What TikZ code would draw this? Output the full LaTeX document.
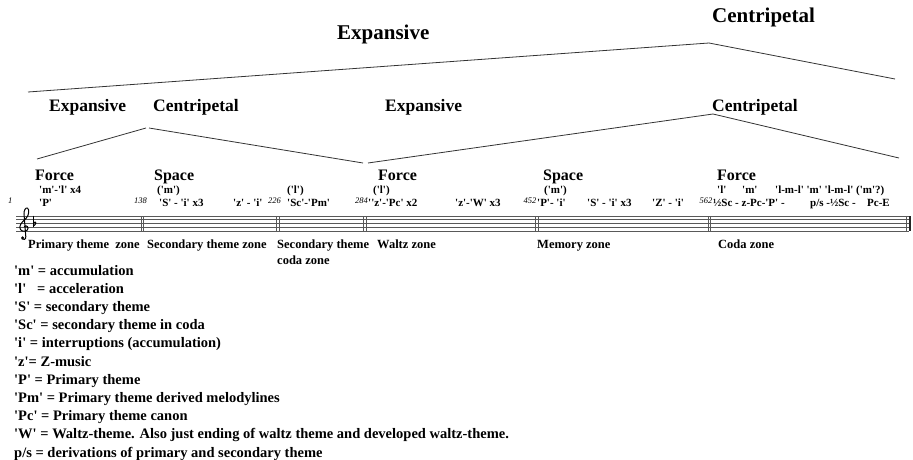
\documentclass[tikz,border=0pt]{standalone}
\usepackage{fontspec}
\setmainfont{Liberation Serif}[Ligatures=TeXOff]
\usetikzlibrary{calc}

\begin{document}
\begin{tikzpicture}[x=1pt,y=-1pt]
	\tikzset{
		txt/.style={anchor=base west,inner sep=0pt},
		big/.style={txt,font=\fontsize{21}{24}\selectfont\bfseries},
		half/.style={txt,font=\fontsize{17.5}{20}\selectfont\bfseries},
		part/.style={txt,font=\fontsize{16}{18}\selectfont\bfseries},
		lab/.style={txt,font=\fontsize{11}{13}\selectfont\bfseries},
		barno/.style={txt,font=\fontsize{8.5}{10}\selectfont\itshape},
		zone/.style={txt,font=\fontsize{12.5}{15}\selectfont\bfseries},
		key/.style={txt,font=\fontsize{14.5}{17}\selectfont\bfseries},
		arch/.style={line width=0.8pt,black!80},
		staffline/.style={line width=0.6pt,black!65},
		barline/.style={line width=0.7pt,black!65},
	}
	\useasboundingbox (0,0) rectangle (913,460);

	% top level
	\node[big] (exp) at (337,39.5) {Expansive};
	\node[big] (cen) at (712,23) {Centripetal};
	\coordinate (a0) at (28,92);
	\coordinate (a1) at (709,43);
	\coordinate (a2) at (895,79);
	\draw[arch] (a0) -- (a1) -- (a2);

	% second level
	\node[half] (exp1) at (49,111.5) {Expansive};
	\node[half] (cen1) at (153,111.5) {Centripetal};
	\node[half] (exp2) at (385,111.5) {Expansive};
	\node[half] (cen2) at (712,111.5) {Centripetal};
	\coordinate (b0) at (37,159);
	\coordinate (b1) at (146,128);
	\coordinate (b2) at (149,128);
	\coordinate (b3) at (363,163);
	\coordinate (b4) at (368,163);
	\coordinate (b5) at (713,114);
	\coordinate (b6) at (899,158);
	\draw[arch] (b0) -- (b1);
	\draw[arch] (b2) -- (b3);
	\draw[arch] (b4) -- (b5) -- (b6);

	% staff
	\foreach \k in {0,...,4}
		\draw[staffline] (16,216+3.7*\k) -- (909,216+3.7*\k);
	\foreach \x in {141,276.5,363.5,535.5,708}{
		\draw[barline] (\x,216) -- (\x,230.8);
		\draw[barline] (\x+2.6,216) -- (\x+2.6,230.8);
	}
	\draw[barline] (906,216) -- (906,230.8);
	\draw[line width=2.8pt,black!85] (910,216) -- (910,230.8);

	% clef and flat
	\draw[line width=1pt,line cap=round] (24.4,226.6)
		.. controls (26.6,224.4) and (29.4,227.6) .. (27.2,230.2)
		.. controls (24.8,232.4) and (19.6,231.2) .. (19.8,227.2)
		.. controls (20,223.2) and (24,220.8) .. (26.2,218.2)
		.. controls (29.2,215) and (29.4,209.5) .. (27.6,208.2)
		.. controls (25.6,207) and (23.8,210.5) .. (24,214)
		-- (25.8,236.4)
		.. controls (26.2,239.4) and (23.2,240.6) .. (21.8,238.8);
	\fill (22.6,237.8) circle (1.6);
	\draw[line width=0.6pt] (33.2,215.5) -- (33.2,226.5);
	\draw[line width=1pt] (33.2,226.2) .. controls (36.6,224.2) and (37,220.8) .. (33.2,222.6);

	% bar numbers
	\node[barno] (n1) at (8,203) {1};
	\node[barno] (n138) at (134,203) {138};
	\node[barno] (n226) at (268,203) {226};
	\node[barno] (n284) at (355,203) {284};
	\node[barno] (n452) at (523.5,203) {452};
	\node[barno] (n562) at (699.5,203) {562};

	% force / space
	\node[part] (f1) at (35,180) {Force};
	\node[part] (s1) at (154,180) {Space};
	\node[part] (f2) at (378,180) {Force};
	\node[part] (s2) at (543,180) {Space};
	\node[part] (f3) at (717,180) {Force};

	% upper row of signs
	\node[lab] (u1) at (39,193) {'m'-'l' x4};
	\node[lab] (u2) at (157,193) {('m')};
	\node[lab] (u3) at (287,193) {('l')};
	\node[lab] (u4) at (373,193) {('l')};
	\node[lab] (u5) at (544,193) {('m')};
	\node[lab] (u6) at (717,193) {'l'};
	\node[lab] (u7) at (742,193) {'m'};
	\node[lab] (u8) at (775,193) {'l-m-l' 'm' 'l-m-l' ('m'?)};

	% lower row of signs
	\node[lab] (l1) at (39,206) {'P'};
	\node[lab] (l2) at (159,206) {'S' - 'i' x3};
	\node[lab] (l3) at (233,206) {'z' - 'i'};
	\node[lab] (l4) at (287,206) {'Sc'-'Pm'};
	\node[lab] (l5) at (368,206) {''z'-'Pc' x2};
	\node[lab] (l6) at (455,206) {'z'-'W' x3};
	\node[lab] (l7) at (537,206) {'P'- 'i'};
	\node[lab] (l8) at (587,206) {'S' - 'i' x3};
	\node[lab] (l9) at (652,206) {'Z' - 'i'};
	\node[lab] (l10) at (713,206) {½Sc - z-Pc-'P' -};
	\node[lab] (l11) at (810,206) {p/s -½Sc -};
	\node[lab] (l12) at (867,206) {Pc-E};

	% zones
	\node[zone] (z1) at (28,248) {Primary theme\ \ zone};
	\node[zone] (z2) at (147,248) {Secondary theme zone};
	\node[zone] (z3) at (277,248) {Secondary theme};
	\node[zone] (z3b) at (277,264) {coda zone};
	\node[zone] (z4) at (377,248) {Waltz zone};
	\node[zone] (z5) at (537,248) {Memory zone};
	\node[zone] (z6) at (718,248) {Coda zone};

	% key
	\foreach \txt [count=\k from 0] in {
		{'m' = accumulation},
		{'l'\ \ \ = acceleration},
		{'S' = secondary theme},
		{'Sc' = secondary theme in coda},
		{'i' = interruptions (accumulation)},
		{'z'= Z-music},
		{'P' = Primary theme},
		{'Pm' = Primary theme derived melodylines},
		{'Pc' = Primary theme canon},
		{'W' = Waltz-theme. Also just ending of waltz theme and developed waltz-theme.},
		{p/s = derivations of primary and secondary theme}}
		\node[key] (key\k) at (14,275+18.2*\k) {\txt};
\end{tikzpicture}
\end{document}
